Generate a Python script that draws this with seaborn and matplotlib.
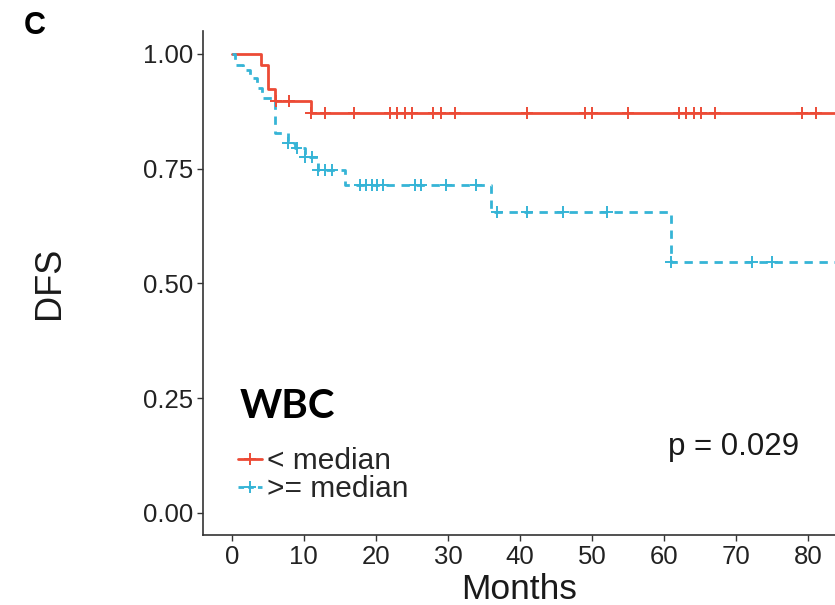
import numpy as np
import pandas as pd
import matplotlib
matplotlib.use("Agg")
import matplotlib.pyplot as plt
from matplotlib.lines import Line2D
import seaborn as sns

# Kaplan-Meier steps
low_times = [0, 4, 5, 6, 11, 88]
low_surv = [1.0, 0.976, 0.924, 0.898, 0.871, 0.871]
low_censor = [6.1, 7.9, 11, 13, 17, 22, 23, 24, 25, 28, 29, 31, 41, 49, 50, 55,
              62.1, 63.1, 64.2, 65.2, 67.1, 79.2, 81.1]

high_times = [0, 0.5, 1.5, 2.5, 3.5, 4.2, 6, 7.8, 8.75, 10.1, 11.9, 15.7, 36, 61, 88]
high_surv = [1.0, 0.976, 0.965, 0.948, 0.926, 0.904, 0.828, 0.806, 0.795, 0.776,
             0.747, 0.715, 0.656, 0.547, 0.547]
high_censor = [7.8, 9.0, 10.1, 11.1, 12, 13, 13.9, 17.8, 18.6, 19.4, 20.1, 21.0,
               25.4, 26.3, 29.7, 33.9, 36.8, 41, 46, 52.1, 61, 72.2, 75]

groups = ["< median", ">= median"]
palette = {"< median": "#EC4B36", ">= median": "#36B4D6"}


def surv_at(times, surv, t):
    idx = np.searchsorted(times, t, side="right") - 1
    return surv[idx]


curve = pd.concat([
    pd.DataFrame({"time": low_times, "surv": low_surv, "group": groups[0]}),
    pd.DataFrame({"time": high_times, "surv": high_surv, "group": groups[1]}),
])
marks = pd.concat([
    pd.DataFrame({"time": low_censor,
                  "surv": [surv_at(low_times, low_surv, t) for t in low_censor],
                  "group": groups[0]}),
    pd.DataFrame({"time": high_censor,
                  "surv": [surv_at(high_times, high_surv, t) for t in high_censor],
                  "group": groups[1]}),
])

sns.set_style("white")
plt.rcParams['font.family'] = ['Liberation Sans', 'DejaVu Sans']

fig = plt.figure(figsize=(8.35, 6.05), dpi=100)
ax = fig.add_axes([203 / 835, 70 / 605, 1 - 203 / 835, 504 / 605])

sns.lineplot(data=curve, x="time", y="surv", hue="group", style="group",
             palette=palette, dashes={groups[0]: "", groups[1]: (3, 2.4)},
             drawstyle="steps-post", estimator=None, linewidth=2.0,
             legend=False, ax=ax)
sns.scatterplot(data=marks, x="time", y="surv", hue="group", palette=palette,
                marker="+", s=70, linewidth=1.4, legend=False, ax=ax, zorder=3)

ax.set_xlim(-4, 83.75)
ax.set_ylim(-0.048, 1.05)
ax.set_xticks(range(0, 90, 10))
ax.set_yticks([0, 0.25, 0.5, 0.75, 1.0])
ax.set_yticklabels(["0.00", "0.25", "0.50", "0.75", "1.00"])
ax.tick_params(axis="both", labelsize=18.5, length=4, width=1.0, color="#333333",
               labelcolor="#222222", direction="out", bottom=True, left=True, pad=3)
for side in ["top", "right"]:
    ax.spines[side].set_visible(False)
for side in ["left", "bottom"]:
    ax.spines[side].set_color("#333333")
    ax.spines[side].set_linewidth(1.2)

ax.set_xlabel("Months", fontsize=25.5, labelpad=3, color="#1a1a1a")
ax.set_ylabel("DFS", fontsize=26, labelpad=55, color="#1a1a1a")

ax.text(69.7, 0.143, "p = 0.029", fontsize=22.5, ha="center", va="center", color="#1a1a1a")
ax.text(1.1, 0.232, "WBC", fontsize=29, fontweight="bold", family=["Lato", "DejaVu Sans"],
        ha="left", va="center", color="black")

handles = [Line2D([], [], color=palette[g], marker="+", markersize=9, markeredgewidth=1.4,
                  linestyle="-" if i == 0 else (0, (2, 1.5)), linewidth=2.0)
           for i, g in enumerate(groups)]
ax.legend(handles, groups, loc="upper left", bbox_to_anchor=(0.037, 0.198), frameon=False,
          fontsize=21.5, handlelength=0.8, handletextpad=0.15, labelspacing=0.0,
          borderaxespad=0)

fig.text(35 / 835, 1 - 26 / 605, "C", fontsize=22, fontweight="bold", ha="center",
         va="center", color="black")

fig.savefig("out.png", dpi=100)
